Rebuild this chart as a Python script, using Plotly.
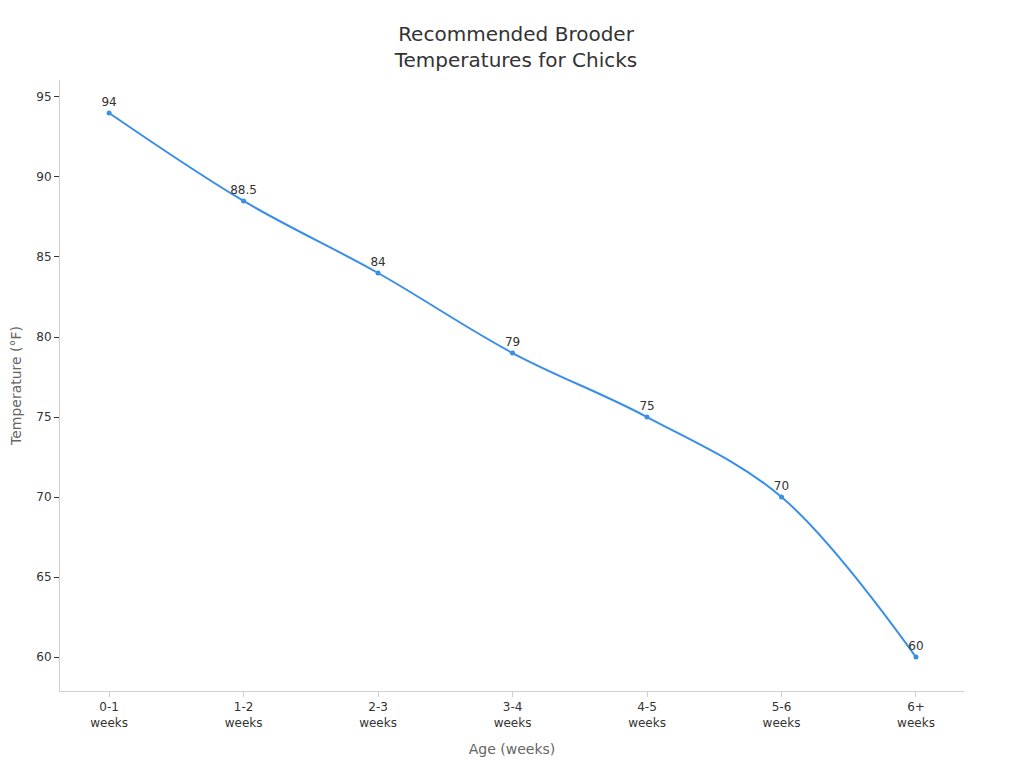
import plotly.graph_objects as go

ages = ["0-1<br>weeks", "1-2<br>weeks", "2-3<br>weeks", "3-4<br>weeks",
        "4-5<br>weeks", "5-6<br>weeks", "6+<br>weeks"]
temps_f = [94, 88.5, 84, 79, 75, 70, 60]
labels = ["94", "88.5", "84", "79", "75", "70", "60"]

LINE = "#3a8ee6"
INK, MUT, AX = "#333333", "#666666", "#d0d0d0"

fig = go.Figure()
fig.add_trace(go.Scatter(
    x=ages, y=temps_f, mode="lines+markers+text", text=labels,
    textposition="top center", textfont=dict(size=12, color=INK),
    line=dict(color=LINE, width=2, shape="spline", smoothing=1.0),
    marker=dict(color=LINE, size=5), cliponaxis=False, showlegend=False))

# page body has an 8px margin, so the figure is sized to the visible window
fig.update_layout(
    width=1016, height=760, template="plotly_white",
    paper_bgcolor="white", plot_bgcolor="white",
    font=dict(family="DejaVu Sans", size=12, color=INK),
    title=dict(text="Recommended Brooder<br>Temperatures for Chicks", x=0.5, xanchor="center",
               y=0.956, yanchor="top", font=dict(size=20, color=INK)),
    margin=dict(l=52, r=60, t=72, b=77))
fig.update_xaxes(range=[-0.365, 6.357], showgrid=False, zeroline=False, automargin=False,
                 showline=True, linecolor=AX, ticks="outside", ticklen=5, tickcolor=AX,
                 title=dict(text="Age (weeks)", font=dict(size=14, color=MUT), standoff=15))
fig.update_yaxes(range=[57.88, 96.06], dtick=5, showgrid=False, zeroline=False, automargin=False,
                 showline=True, linecolor=AX, ticks="outside", ticklen=5, tickcolor=INK,
                 title=dict(text="Temperature (°F)", font=dict(size=14, color=MUT), standoff=15))
fig.write_html("out.html")
